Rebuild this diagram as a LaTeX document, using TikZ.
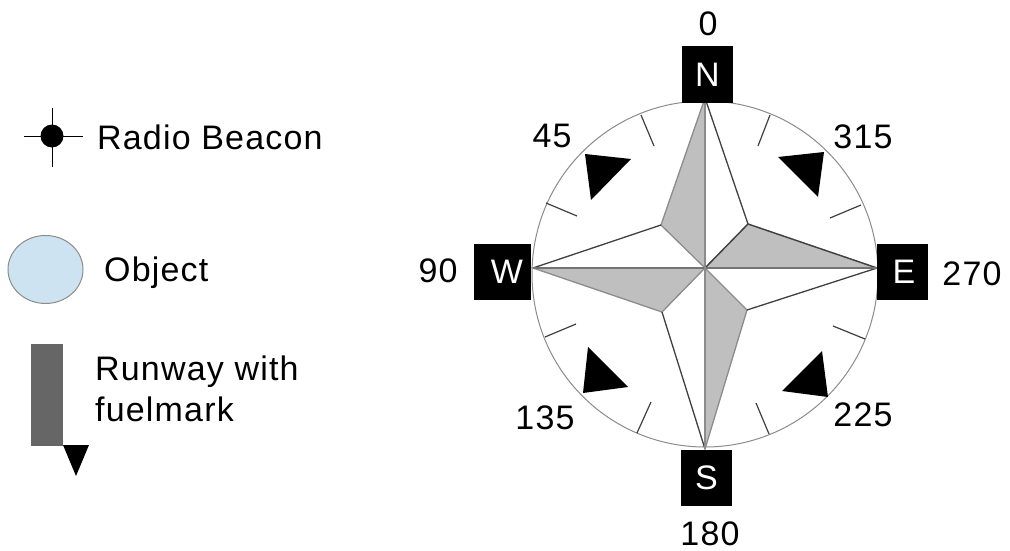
\documentclass[tikz,border=0pt]{standalone}
\usepackage{fontspec}
\setmainfont[LetterSpace=3.5]{Liberation Sans}
\definecolor{objblue}{HTML}{CEE3F2}
\begin{document}
\begin{tikzpicture}[x=1pt,y=-1pt,
  lbl/.style={font=\fontsize{34}{38}\selectfont,text=black,inner sep=0pt,anchor=center},
  dirbox/.style={fill=black,inner sep=0pt,text=white,font=\fontsize{34}{38}\selectfont},
  tri/.style={fill=black,draw=none},
  tickmark/.style={draw=black!75,line width=1.2},
  fin/.style={fill=black!25,draw=black!45,line width=1.3},
  darkedge/.style={draw=black!75,line width=1.3},
  axisline/.style={line width=1.6}]
\useasboundingbox (0,0) rectangle (1010,551);
\fill[white] (0,0) rectangle (1010,551);
% legend
\coordinate (bw) at (24,136); \coordinate (be) at (83,136);
\coordinate (bn) at (52,108); \coordinate (bs) at (52,167);
\draw[black,line width=.9] (bw) -- (be);
\draw[black,line width=.9] (bn) -- (bs);
\fill[black] (52,136) circle (11.5);
\node[lbl,anchor=west] (beacon) at (97,137.5) {Radio Beacon};
\draw[fill=objblue,draw=black!45,line width=1] (45.5,269.5) ellipse (37.5 and 34);
\node[lbl,anchor=west] (object) at (104,273) {Object};
\fill[black!60] (31,344) rectangle (63,446);
\fill[black] (63,445) -- (89,445) -- (76,476) -- cycle;
\node[lbl,anchor=west] (runway) at (95,372) {Runway with};
\node[lbl,anchor=west] (fuel) at (95,409) {fuelmark};
% compass ring
\draw[black!45,line width=1,fill=white] (705,274) circle (173);
\coordinate (c) at (705,268);
\coordinate (Nt) at (705,98);
\coordinate (St) at (705,449);
\coordinate (Wt) at (533,268);
\coordinate (Et) at (877,268);
\coordinate (nw) at (661,225);
\coordinate (ne) at (748,224);
\coordinate (sw) at (662,312);
\coordinate (se) at (747,310);
% fins
\draw[fin] (Nt) -- (nw) -- (c) -- cycle;
\draw[fin] (Et) -- (ne) -- (c) -- cycle;
\draw[fin] (St) -- (se) -- (c) -- cycle;
\draw[fin] (Wt) -- (sw) -- (c) -- cycle;
\draw[darkedge] (Nt) -- (ne) -- (c);
\draw[darkedge] (ne) -- (Et) -- (se);
\draw[darkedge] (St) -- (sw);
\draw[darkedge] (Wt) -- (nw);
\draw[axisline,black!55] (Wt) -- (Et);
\draw[axisline,black!45] (Nt) -- (St);
% ticks
\foreach \a/\b/\p/\q in {641/115/654/146, 546/203/577/216, 770/115/758/146, 861/205/830/218, 865/339/833/326, 769/434/756/403, 545/337/576/324, 637/433/651/402}
  \draw[tickmark] (\a,\b) -- (\p,\q);
% triangles
\fill[tri] (585,154) -- (631,159) -- (591,200) -- cycle;
\fill[tri] (778,157) -- (824,152) -- (818,197) -- cycle;
\fill[tri] (822,351) -- (828,397) -- (782,391) -- cycle;
\fill[tri] (588,347) -- (628,387) -- (583,393) -- cycle;
% direction boxes
\node[dirbox,minimum width=51,minimum height=57] (N) at (707.5,74.5) {N};
\node[dirbox,minimum width=51,minimum height=56] (E) at (902.5,272) {\hspace{3pt}E};
\node[dirbox,minimum width=57,minimum height=56] (W) at (502.5,272) {\hspace{9pt}W};
\node[dirbox,minimum width=51,minimum height=56] (S) at (706.5,478) {S};
% degree labels
\node[lbl] (d0) at (708,24) {0};
\node[lbl] (d45) at (552,136) {45};
\node[lbl] (d315) at (863,137) {315};
\node[lbl] (d90) at (438,271) {90};
\node[lbl] (d270) at (972,274) {270};
\node[lbl] (d135) at (545,418) {135};
\node[lbl] (d225) at (863,415) {225};
\node[lbl] (d180) at (710,534) {180};
\end{tikzpicture}
\end{document}
